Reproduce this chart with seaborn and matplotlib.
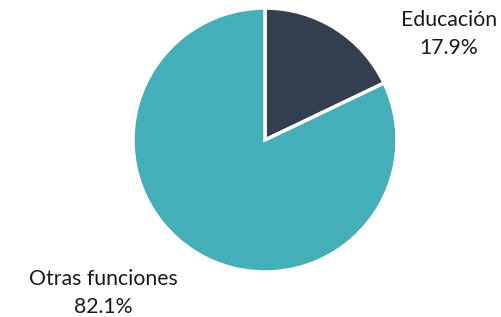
import matplotlib
matplotlib.use("Agg")
import matplotlib.pyplot as plt
import seaborn as sns

categories = ["Educación", "Otras funciones"]
values = [17.9, 82.1]
colors = ["#333F50", "#44AFB8"]

sns.set_style("white")
plt.rcParams['font.family'] = ['Lato', 'DejaVu Sans']

fig = plt.figure(figsize=(5.02, 3.17), dpi=100)
cx, cy, r = 265, 140, 132
W, H = 502, 317
ax = fig.add_axes([(cx - r) / W, 1 - (cy + r) / H, 2 * r / W, 2 * r / H])
ax.pie(values, colors=colors, startangle=90, counterclock=False,
       wedgeprops=dict(edgecolor="white", linewidth=2.5))
ax.set_xlim(-1, 1)
ax.set_ylim(-1, 1)
ax.set_aspect("equal")
ax.axis("off")

label_pos = [((449 - cx) / r, (cy - 34) / r), ((103 - cx) / r, (cy - 293) / r)]
for cat, v, (x, y) in zip(categories, values, label_pos):
    ax.text(x, y, f"{cat}\n{v:.1f}%", ha="center", va="center", fontsize=15.3,
            color="#1a1a1a", linespacing=1.5, clip_on=False)

fig.savefig("out.png", dpi=100)
